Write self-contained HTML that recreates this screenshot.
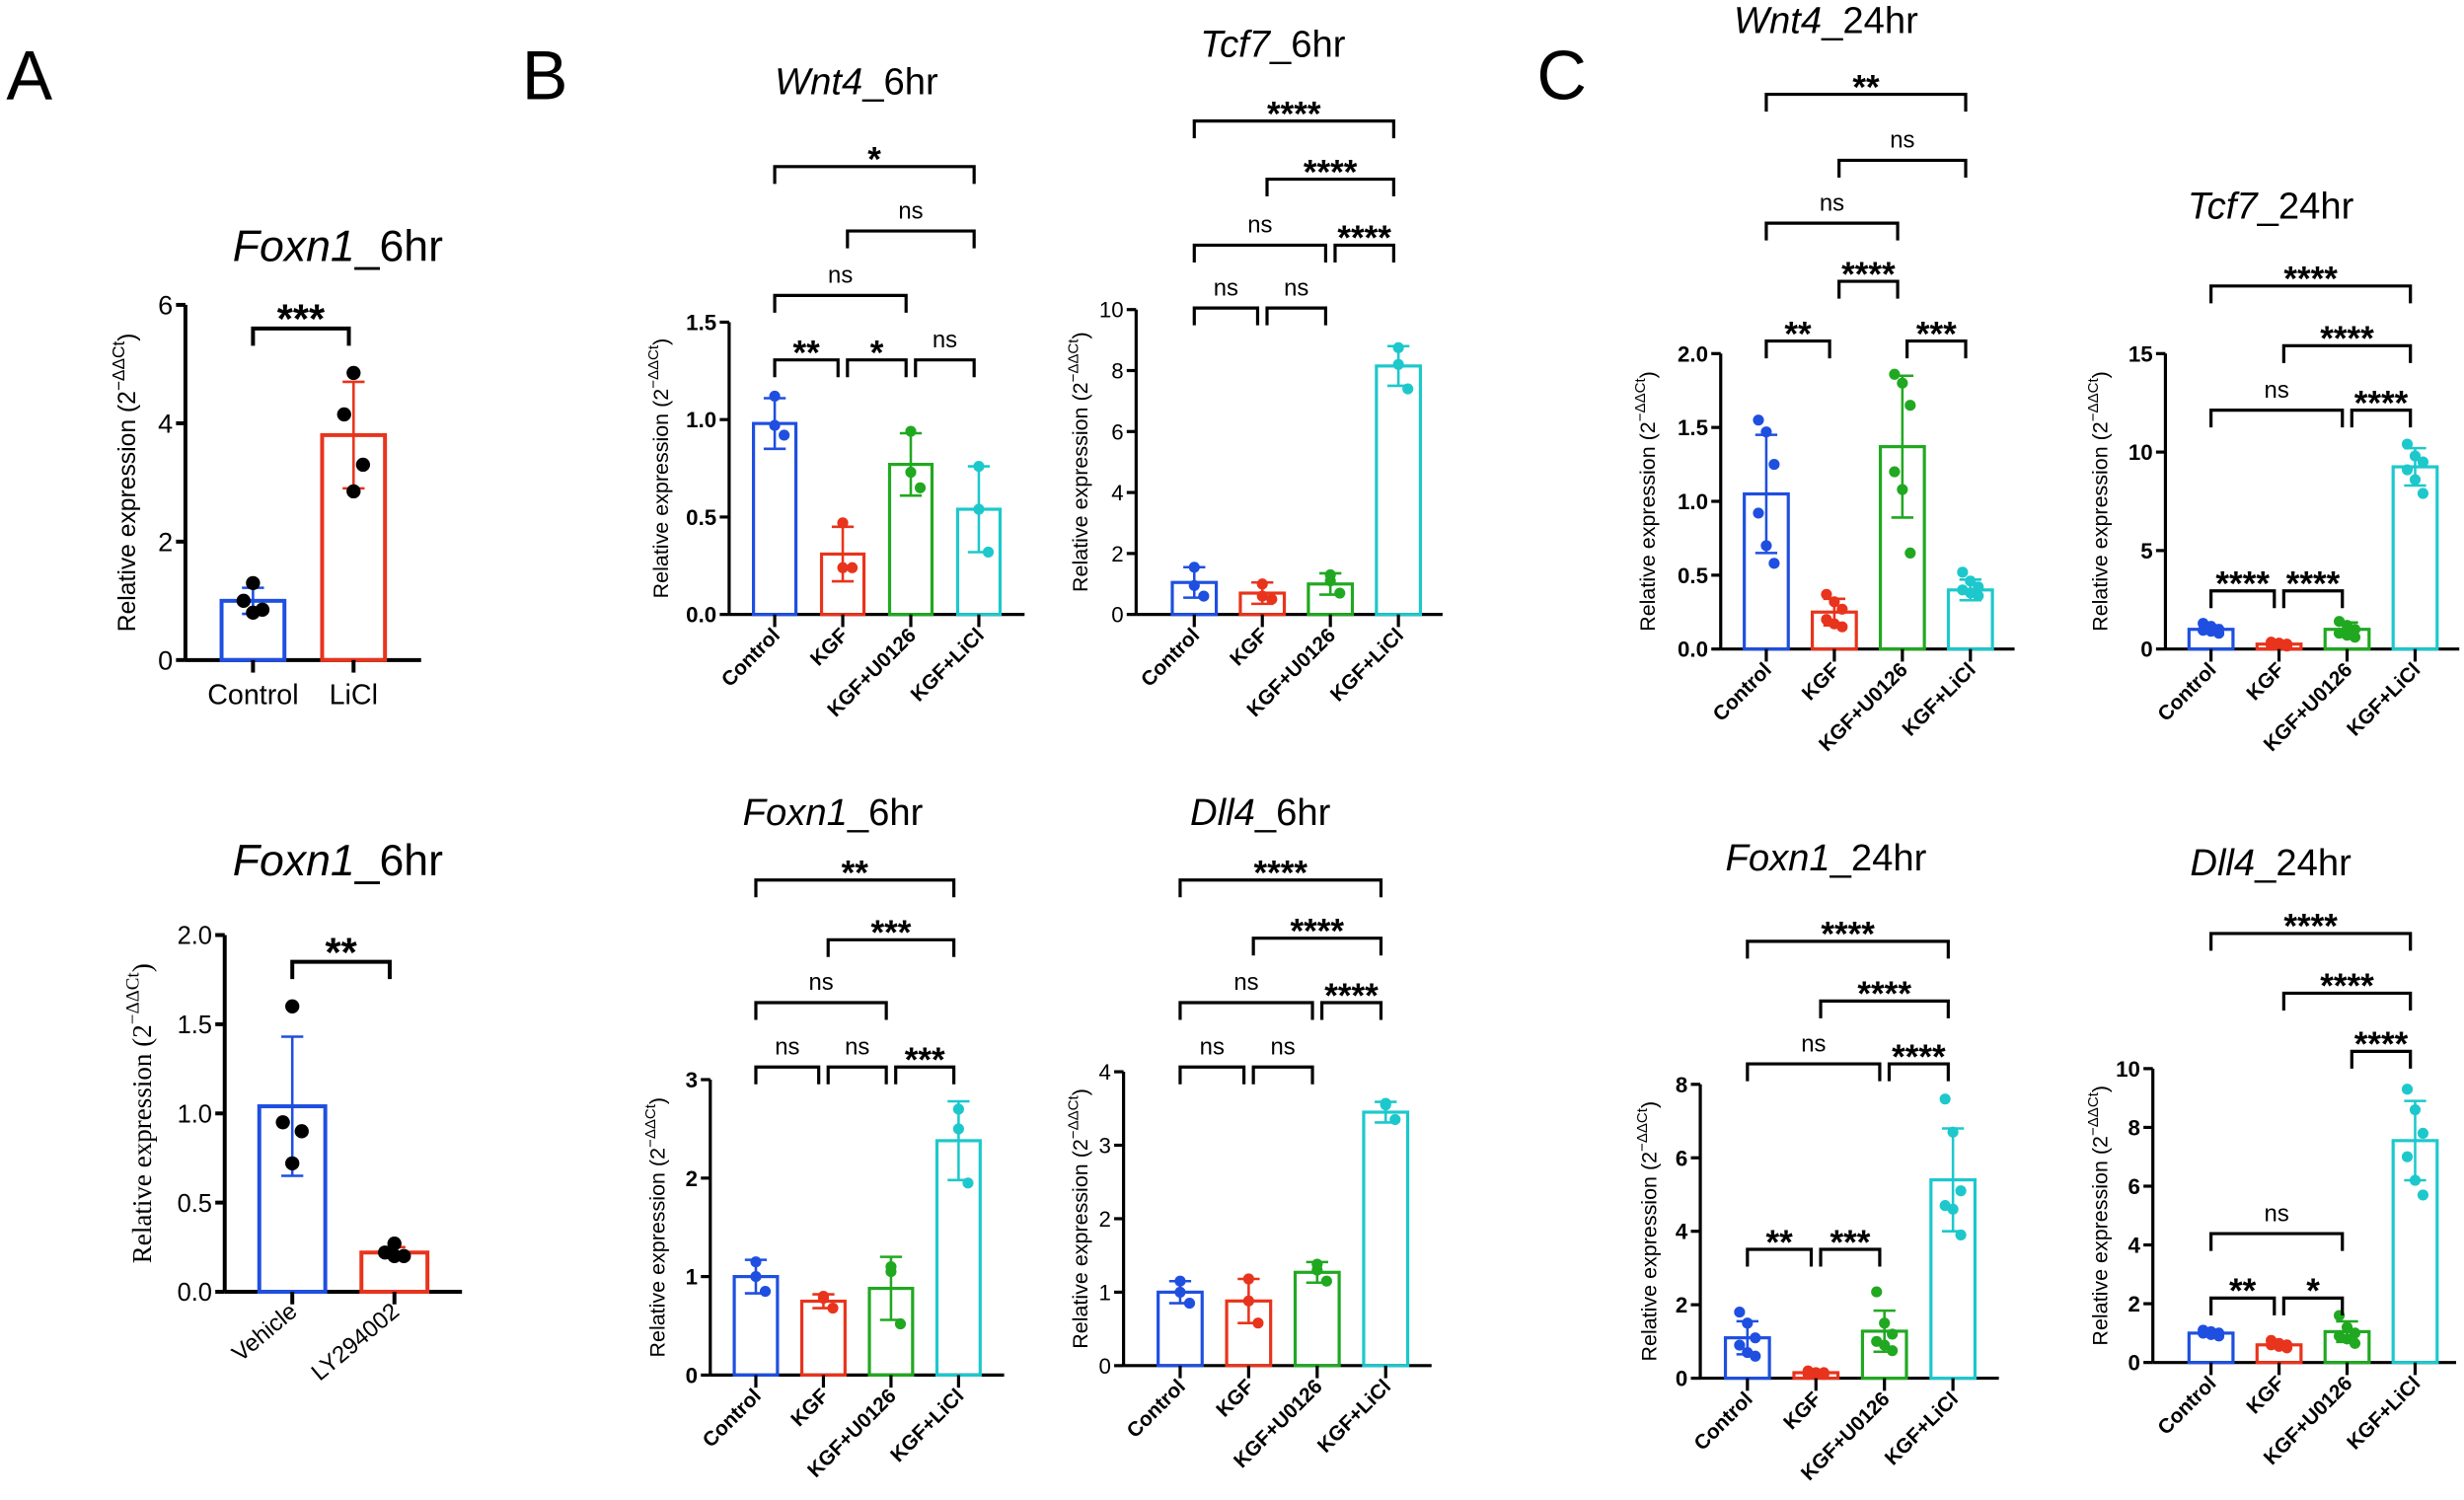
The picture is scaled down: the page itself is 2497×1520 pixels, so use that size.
<!DOCTYPE html>
<html><head><meta charset="utf-8"><style>
html,body{margin:0;padding:0;background:#fff}
svg{display:block}
text{font-family:"Liberation Sans",Arial,sans-serif;fill:#000}
</style></head><body>
<svg id="fig" width="2497" height="1520" viewBox="0 0 1568 954.5" preserveAspectRatio="none" xmlns="http://www.w3.org/2000/svg">
<text x="4" y="63" font-size="44">A</text>
<text x="332" y="63" font-size="44">B</text>
<text x="978" y="63" font-size="44">C</text>
</svg>
<script>
// ---- data ----
const cat2a = ["Control","LiCl"];
const cat2b = ["Vehicle","LY294002"];
const cat4 = ["Control","KGF","KGF+U0126","KGF+LiCl"];

const a1_means=[1.0,3.8], a1_errs=[0.22,0.9];
const a1_pts=[[1.3,1.0,0.85,0.8],[4.85,4.15,3.3,2.85]];
const a1_ticks=[0,2,4,6];
const a2_means=[1.04,0.22], a2_errs=[0.39,0.03];
const a2_pts=[[1.6,0.95,0.9,0.72],[0.2,0.22,0.2,0.27]];
const a2_ticks=[0,0.5,1.0,1.5,2.0];

const w6_means=[0.98,0.31,0.77,0.54], w6_errs=[0.13,0.14,0.16,0.22];
const w6_pts=[[1.12,0.97,0.92],[0.47,0.24,0.24],[0.94,0.73,0.65],[0.76,0.54,0.32]];
const w6_ticks=[0,0.5,1.0,1.5];
const t6_means=[1.05,0.7,1.0,8.15], t6_errs=[0.5,0.35,0.35,0.65];
const t6_pts=[[1.55,0.95,0.6],[1.0,0.6,0.5],[1.3,1.1,0.7],[8.75,8.2,7.4]];
const t6_ticks=[0,2,4,6,8,10];
const f6_means=[1.0,0.75,0.88,2.38], f6_errs=[0.17,0.07,0.32,0.4];
const f6_pts=[[1.15,1.0,0.85],[0.8,0.78,0.68],[1.1,1.05,0.52],[2.7,2.5,1.95]];
const f6_ticks=[0,1,2,3];
const d6_means=[1.0,0.88,1.27,3.45], d6_errs=[0.15,0.3,0.14,0.14];
const d6_pts=[[1.15,1.0,0.85],[1.18,0.88,0.58],[1.38,1.3,1.15],[3.57,3.55,3.35]];
const d6_ticks=[0,1,2,3,4];

const w24_means=[1.05,0.25,1.37,0.4], w24_errs=[0.4,0.09,0.48,0.07];
const w24_pts=[[1.55,1.47,1.25,0.92,0.7,0.58],[0.37,0.32,0.27,0.2,0.17,0.15],[1.86,1.8,1.65,1.2,1.08,0.65],[0.52,0.46,0.42,0.4,0.38,0.36]];
const w24_ticks=[0,0.5,1.0,1.5,2.0];
const t24_means=[1.0,0.25,1.0,9.25], t24_errs=[0.2,0.08,0.35,0.95];
const t24_pts=[[1.3,1.15,1.0,0.95,0.9,0.8],[0.35,0.3,0.25,0.2,0.2,0.15],[1.4,1.2,1.0,0.8,0.7,0.6],[10.4,9.8,9.5,9.1,8.6,7.9]];
const t24_ticks=[0,5,10,15];
const f24_means=[1.1,0.15,1.28,5.4], f24_errs=[0.45,0.05,0.56,1.4];
const f24_pts=[[1.8,1.5,1.1,0.9,0.7,0.6],[0.2,0.15,0.15,0.1,0.1,0.1],[2.35,1.5,1.2,1.0,0.9,0.75],[7.6,6.7,5.1,4.7,4.6,3.9]];
const f24_ticks=[0,2,4,6,8];
const d24_means=[1.0,0.6,1.05,7.55], d24_errs=[0.1,0.1,0.35,1.35];
const d24_pts=[[1.1,1.05,1.0,1.0,0.95,0.9],[0.75,0.65,0.6,0.6,0.55,0.5],[1.6,1.2,1.0,0.9,0.8,0.65],[9.3,8.6,7.8,7.0,6.2,5.7]];
const d24_ticks=[0,2,4,6,8,10];

const COLORS=["#1f4fe0","#e8341c","#21a821","#1dc8cc"];
const NS="http://www.w3.org/2000/svg";
const svg=document.getElementById('fig');
function mk(tag,attrs,parent){const e=document.createElementNS(NS,tag);for(const k in attrs)e.setAttribute(k,attrs[k]);(parent||svg).appendChild(e);return e;}

const panels=[
 {id:"a1",gene:"Foxn1",suf:"_6hr",tx:215,ty:166,tfs:28,ax:118,xend:268,y0:420,ytop:194,vmax:6,ticks:a1_ticks,dec:0,c0:161,step:64,bw:40,cats:cat2a,rot:0,means:a1_means,errs:a1_errs,pts:a1_pts,black:true,lfs:16,tkfs:17,bold:false,
  br:[[0,1,209,"***"]],ylx:86,ylfs:15.5,serif:false},
 {id:"a2",gene:"Foxn1",suf:"_6hr",tx:215,ty:557,tfs:28,ax:143,xend:294,y0:822,ytop:595,vmax:2,ticks:a2_ticks,dec:1,c0:186,step:65,bw:42,cats:cat2b,rot:-40,means:a2_means,errs:a2_errs,pts:a2_pts,black:true,lfs:15,tkfs:16,bold:false,
  br:[[0,1,612,"**"]],ylx:96,ylfs:17,serif:true},
 {id:"w6",gene:"Wnt4",suf:"_6hr",tx:545,ty:60,tfs:24,ax:464,xend:652,y0:391,ytop:205,vmax:1.5,ticks:w6_ticks,dec:1,c0:493,step:43.3,bw:27,cats:cat4,rot:-45,means:w6_means,errs:w6_errs,pts:w6_pts,lfs:13,tkfs:14,bold:true,
  br:[[0,1,229,"**"],[1,2,229,"*"],[2,3,229,"ns"],[0,2,188,"ns"],[1,3,147,"ns"],[0,3,106,"*"]],ylx:425,ylfs:13.5},
 {id:"t6",gene:"Tcf7",suf:"_6hr",tx:810,ty:36,tfs:24,ax:723,xend:918,y0:391,ytop:197,vmax:10,ticks:t6_ticks,dec:0,c0:760,step:43.3,bw:28,cats:cat4,rot:-45,means:t6_means,errs:t6_errs,pts:t6_pts,lfs:13,tkfs:14,bold:false,
  br:[[0,1,196,"ns"],[1,2,196,"ns"],[0,2,156,"ns"],[2,3,156,"****"],[1,3,114,"****"],[0,3,77,"****"]],ylx:692,ylfs:13.5},
 {id:"f6",gene:"Foxn1",suf:"_6hr",tx:530,ty:525,tfs:24,ax:452,xend:639,y0:875,ytop:687,vmax:3,ticks:f6_ticks,dec:0,c0:481,step:43,bw:27.5,cats:cat4,rot:-45,means:f6_means,errs:f6_errs,pts:f6_pts,lfs:13,tkfs:14,bold:true,
  br:[[0,1,679,"ns"],[1,2,679,"ns"],[2,3,679,"***"],[0,2,638,"ns"],[1,3,598,"***"],[0,3,560,"**"]],ylx:423,ylfs:13.5},
 {id:"d6",gene:"Dll4",suf:"_6hr",tx:802,ty:525,tfs:24,ax:715,xend:911,y0:869,ytop:682,vmax:4,ticks:d6_ticks,dec:0,c0:751,step:43.6,bw:28,cats:cat4,rot:-45,means:d6_means,errs:d6_errs,pts:d6_pts,lfs:13,tkfs:14,bold:false,
  br:[[0,1,679,"ns"],[1,2,679,"ns"],[2,3,638,"****"],[0,2,638,"ns"],[1,3,597,"****"],[0,3,560,"****"]],ylx:692,ylfs:13.5},
 {id:"w24",gene:"Wnt4",suf:"_24hr",tx:1162,ty:21,tfs:24,ax:1095,xend:1282,y0:413,ytop:225,vmax:2,ticks:w24_ticks,dec:1,c0:1124,step:43.3,bw:28,cats:cat4,rot:-45,means:w24_means,errs:w24_errs,pts:w24_pts,lfs:13,tkfs:14,bold:true,
  br:[[0,1,217,"**"],[2,3,217,"***"],[1,2,179,"****"],[0,2,142,"ns"],[1,3,102,"ns"],[0,3,60,"**"]],ylx:1053,ylfs:13.5},
 {id:"t24",gene:"Tcf7",suf:"_24hr",tx:1445,ty:139,tfs:24,ax:1378,xend:1565,y0:413,ytop:225,vmax:15,ticks:t24_ticks,dec:0,c0:1407,step:43.3,bw:28,cats:cat4,rot:-45,means:t24_means,errs:t24_errs,pts:t24_pts,lfs:13,tkfs:14,bold:true,
  br:[[0,1,376,"****"],[1,2,376,"****"],[0,2,261,"ns"],[2,3,261,"****"],[1,3,220,"****"],[0,3,182,"****"]],ylx:1341,ylfs:13.5},
 {id:"f24",gene:"Foxn1",suf:"_24hr",tx:1162,ty:554,tfs:24,ax:1082,xend:1272,y0:877,ytop:690,vmax:8,ticks:f24_ticks,dec:0,c0:1112,step:43.6,bw:28,cats:cat4,rot:-45,means:f24_means,errs:f24_errs,pts:f24_pts,lfs:13,tkfs:14,bold:true,
  br:[[0,1,795,"**"],[1,2,795,"***"],[2,3,677,"****"],[0,2,677,"ns"],[1,3,637,"****"],[0,3,599,"****"]],ylx:1054,ylfs:13.5},
 {id:"d24",gene:"Dll4",suf:"_24hr",tx:1445,ty:557,tfs:24,ax:1370,xend:1563,y0:867,ytop:680,vmax:10,ticks:d24_ticks,dec:0,c0:1407,step:43.3,bw:28,cats:cat4,rot:-45,means:d24_means,errs:d24_errs,pts:d24_pts,lfs:13,tkfs:14,bold:true,
  br:[[0,1,826,"**"],[1,2,826,"*"],[0,2,785,"ns"],[2,3,669,"****"],[1,3,632,"****"],[0,3,594,"****"]],ylx:1341,ylfs:13.5}
];

panels.forEach(p=>{
  const g=mk('g',{});
  
  
  const y=v=>p.y0-(v/p.vmax)*(p.y0-p.ytop);
  const x=i=>p.c0+i*p.step;
  const big=p.cats.length===2;
  const sw=big?2.5:2;
  const t=mk('text',{x:p.tx,y:p.ty,'font-size':p.tfs,'text-anchor':'middle'},g);
  
  
  const ti=mk('tspan',{'font-style':'italic'},t);ti.textContent=p.gene;
  const ts=mk('tspan',{},t);ts.textContent=p.suf;
  const ymid=(p.y0+p.ytop)/2;
  const yl=mk('text',{x:p.ylx,y:ymid,'font-size':p.ylfs,'text-anchor':'middle',transform:`rotate(-90 ${p.ylx} ${ymid})`,style:p.serif?'font-family:"Liberation Serif",serif':''},g);
  
  
  const a=mk('tspan',{},yl);a.textContent="Relative expression (2";
  const b=mk('tspan',{'font-size':p.ylfs*0.7,dy:-p.ylfs*0.45},yl);b.textContent="−ΔΔCt";
  const c=mk('tspan',{dy:p.ylfs*0.45},yl);c.textContent=")";
  const axl=mk('line',{x1:p.ax,y1:p.ytop,x2:p.ax,y2:p.y0,stroke:'#000','stroke-width':sw},g);
  
  
  const xl=mk('line',{x1:p.ax,y1:p.y0,x2:p.xend,y2:p.y0,stroke:'#000','stroke-width':sw},g);
  
  
  p.ticks.forEach(v=>{
    mk('line',{x1:p.ax-6,y1:y(v),x2:p.ax,y2:y(v),stroke:'#000','stroke-width':sw},g);
    const tl=mk('text',{x:p.ax-8,y:y(v)+p.tkfs*0.36,'font-size':p.tkfs,'font-weight':p.bold?'bold':'normal','text-anchor':'end'},g);
    
    
    tl.textContent=v.toFixed(p.dec);
  });
  p.cats.forEach((cn,i)=>{
    const col=COLORS[i];
    const bar=mk('rect',{x:x(i)-p.bw/2,y:y(p.means[i]),width:p.bw,height:p.y0-y(p.means[i]),fill:'none',stroke:col,'stroke-width':sw},g);
    
    
    const hi=y(p.means[i]+p.errs[i]),lo=y(Math.max(0,p.means[i]-p.errs[i]));
    const eb=mk('path',{d:`M${x(i)},${hi}V${lo}M${x(i)-7},${hi}H${x(i)+7}M${x(i)-7},${lo}H${x(i)+7}`,stroke:col,'stroke-width':1.6,fill:'none'},g);
    
    
    const n=p.pts[i].length;
    p.pts[i].forEach((v,k)=>{
      const off=n>4?((k%3)-1)*5:(n===4?[0,-6,6,0][k]:[0,0,6][k]);
      const d=mk('circle',{cx:x(i)+off,cy:y(v),r:big?4.5:3.5,fill:p.black?'#000':col},g);
      
      
    });
    mk('line',{x1:x(i),y1:p.y0,x2:x(i),y2:p.y0+8,stroke:'#000','stroke-width':sw},g);
    let lab;
    if(p.rot===0){lab=mk('text',{x:x(i),y:p.y0+28,'font-size':p.lfs+2,'text-anchor':'middle'},g);}
    else{const lx=x(i)+4,ly=p.y0+14;lab=mk('text',{x:lx,y:ly,'font-size':p.lfs,'font-weight':big?'normal':'bold','text-anchor':'end',transform:`rotate(${p.rot} ${lx} ${ly})`},g);}
    
    
    lab.textContent=cn;
  });
  p.br.forEach(([i,j,by,s])=>{
    const x1=x(i)+(i>0?3:0),x2=x(j)-3;
    const bp=mk('path',{d:`M${x1},${by+11}V${by}H${x2}V${by+11}`,stroke:'#000','stroke-width':big?2.5:2,fill:'none'},g);
    
    
    const st=s!=="ns";
    const bt=mk('text',{x:(x1+x2)/2,y:st?by+(big?3:3):by-8,'font-size':st?(big?26:22):15,'font-weight':st?'bold':'normal','text-anchor':'middle'},g);
    
    
    bt.textContent=s;
  });
});
</script>
</body></html>
